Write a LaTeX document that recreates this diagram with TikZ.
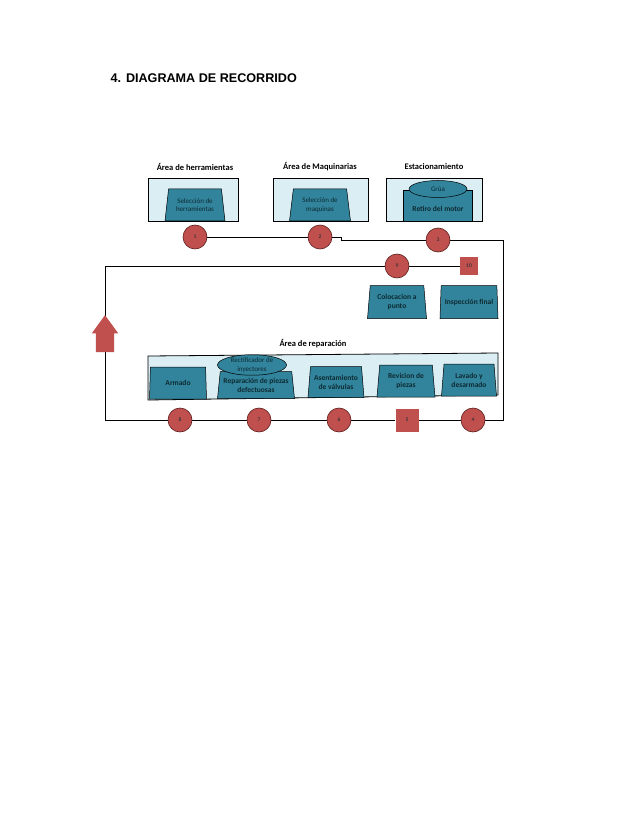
\documentclass[tikz,border=0pt]{standalone}
\usepackage{fontspec}
\setmainfont{Carlito}
\newfontfamily\titlefont{Liberation Sans}
\usepackage{xcolor}
\definecolor{TealBox}{HTML}{31849B}
\definecolor{BlueLight}{HTML}{DAEEF3}
\definecolor{RedStop}{HTML}{C0504D}
\definecolor{RedLine}{HTML}{5A1E1C}
\definecolor{TextDark}{HTML}{0E2A33}
\usetikzlibrary{shapes.geometric, shapes.arrows, positioning, backgrounds}

\begin{document}
\begin{tikzpicture}[x=1pt, y=-1pt,
  area/.style={rectangle, draw=black, fill=BlueLight, line width=0.8pt, inner sep=0pt},
  trap/.style={trapezium, trapezium stretches body, trapezium left angle=80, trapezium right angle=80,
               draw=black, line width=0.5pt, fill=TealBox, text=TextDark, inner sep=0pt,
               align=center, font=\fontsize{7.5}{9}\selectfont\bfseries},
  toptrap/.style={trap, trapezium left angle=75, trapezium right angle=75, font=\fontsize{7}{8.5}\selectfont},
  lid/.style={ellipse, draw=black, line width=0.5pt, fill=TealBox, text=TextDark, inner sep=0pt,
              align=center, font=\fontsize{7}{8.5}\selectfont},
  stop/.style={circle, draw=RedLine, line width=0.6pt, fill=RedStop, minimum size=24pt, inner sep=0pt,
               font=\fontsize{5.5}{6}\selectfont, text=TextDark},
  check/.style={rectangle, fill=RedStop, inner sep=0pt, font=\fontsize{5.5}{6}\selectfont, text=TextDark},
  head/.style={font=\fontsize{8.5}{10}\selectfont\bfseries, text=black},
  flow/.style={draw=black, line width=0.8pt}
]
  \useasboundingbox (0,0) rectangle (638,826);

  \node[anchor=base west, font=\titlefont\fontsize{12.6}{14}\selectfont\bfseries] (title) at (107,83)
    {4.\hspace{5pt}DIAGRAMA DE RECORRIDO};

  % upper areas
  \node[head] (labtool) at (195,167) {Área de herramientas};
  \node[head] (labmach) at (320,167) {Área de Maquinarias};
  \node[head] (labpark) at (434,167) {Estacionamiento};

  \node[area, minimum width=90pt, minimum height=43pt] (tool) at (193,199.5) {};
  \node[area, minimum width=95pt, minimum height=43pt] (mach) at (320.5,199.5) {};
  \node[area, minimum width=96pt, minimum height=43pt] (park) at (434,199.5) {};

  \node[toptrap, minimum width=60pt, minimum height=32pt] (seltool) at (195,205) {Selección de\\herramientas};
  \node[toptrap, minimum width=61pt, minimum height=32pt] (selmach) at (320,205) {Selección de\\maquinas};
  \node[trap, trapezium left angle=78, trapezium right angle=78, minimum width=69pt, minimum height=31pt,
        text depth=0pt] (motor) at (438,205.5) {\raisebox{-6pt}{Retiro del motor}};
  \node[lid, minimum width=58pt, minimum height=17pt] (crane) at (438,189) {Grúa};

  % final checks
  \node[trap, minimum width=59pt, minimum height=33pt] (tune) at (397,302) {Colocacion a\\punto};
  \node[trap, minimum width=58pt, minimum height=33pt] (final) at (469,302) {Inspección final};

  % repair area
  \node[head] (labrep) at (313,344) {Área de reparación};
  \draw[fill=BlueLight, line width=0.8pt] (148,356) -- (498,353) -- (498,395) -- (148,400) -- cycle;

  \node[trap, minimum width=57pt, minimum height=32pt] (build) at (178,383) {Armado};
  \node[trap, trapezium left angle=79, trapezium right angle=79, minimum width=77pt, minimum height=27pt]
    (repair) at (256,385) {Reparación de piezas\\defectuosas};
  \node[lid, minimum width=69pt, minimum height=15pt] (grind) at (252,365) {Rectificador de\\inyectores};
  \node[trap, minimum width=56pt, minimum height=31pt] (valve) at (336,382) {Asentamiento\\de válvulas};
  \node[trap, minimum width=58pt, minimum height=32pt] (review) at (406,381) {Revicion de\\piezas};
  \node[trap, minimum width=55pt, minimum height=32pt] (wash) at (469,380) {Lavado y\\desarmado};

  % stops along the route
  \node[stop] (c1) at (195,237) {1};
  \node[stop] (c2) at (320,237) {2};
  \node[stop] (c3) at (438,240) {3};
  \node[stop] (c4) at (473,420) {4};
  \node[check, minimum size=23pt] (c5) at (407,420) {5};
  \node[stop] (c6) at (339,420) {6};
  \node[stop] (c7) at (259,420) {7};
  \node[stop] (c8) at (180,420) {8};
  \node[stop] (c9) at (397,266) {9};
  \node[check, minimum size=18pt] (c10) at (469,266) {10};

  \coordinate (k1) at (341,237);
  \coordinate (k2) at (341,240);
  \coordinate (k3) at (503,240);
  \coordinate (k4) at (503,420);
  \coordinate (k5) at (105,420);
  \coordinate (k6) at (105,266);

  \node[single arrow, rotate=90, fill=RedStop, minimum height=37pt, inner xsep=0pt, inner ysep=9pt,
        single arrow head extend=4pt, single arrow tip angle=72] (up) at (105,340) {};

  \begin{scope}[on background layer]
    \draw[flow] (c1) -- (c2);
    \draw[flow] (c2) -- (k1) -- (k2) -- (c3);
    \draw[flow] (c3) -- (k3) -- (k4) -- (c4);
    \draw[flow] (c4) -- (c5) -- (c6) -- (c7) -- (c8);
    \draw[flow] (c8) -- (k5) -- (k6) -- (c9);
    \draw[flow] (c9) -- (c10);
  \end{scope}
\end{tikzpicture}
\end{document}
